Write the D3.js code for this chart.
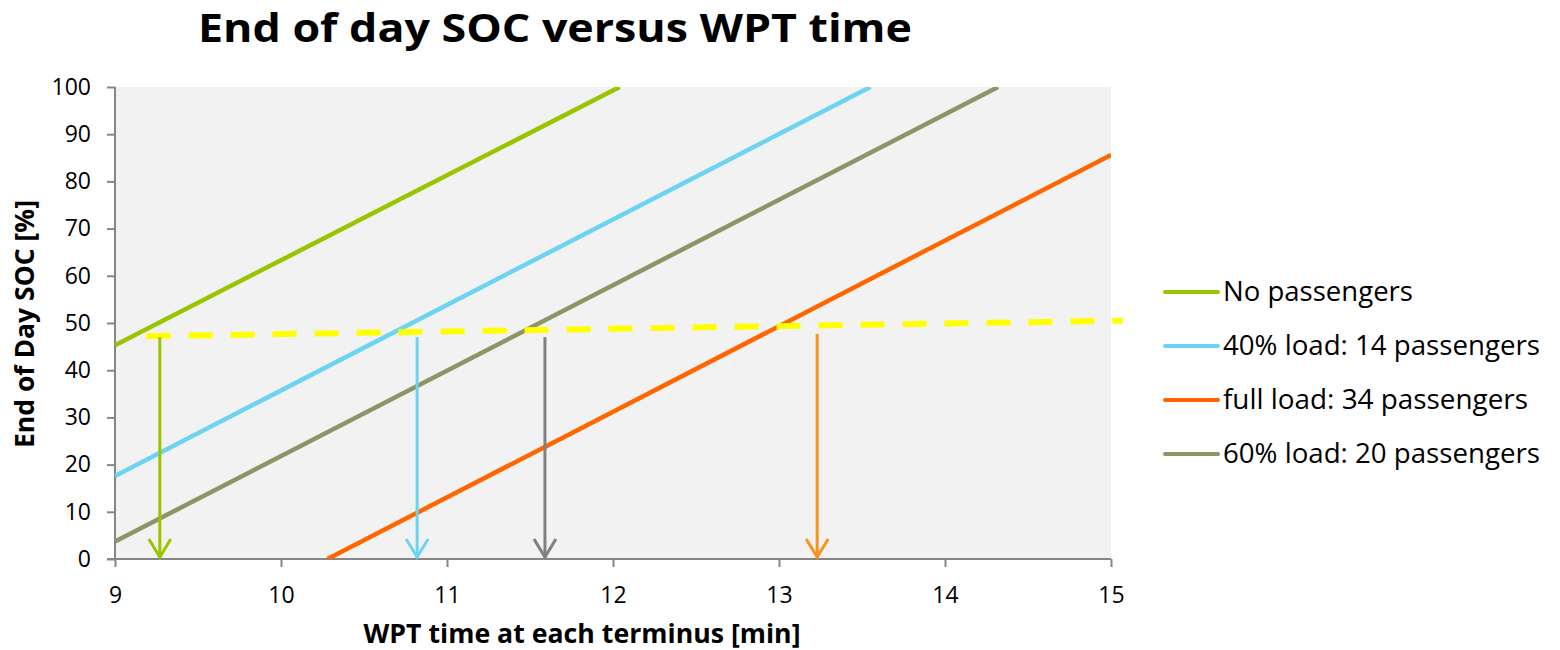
<!DOCTYPE html>
<html><head><meta charset="utf-8">
<script src="https://cdn.jsdelivr.net/npm/d3@7"></script>
<style>body{margin:0;background:#fff;} text{font-family:"Open Sans",sans-serif;fill:#000;}</style>
</head><body>
<svg id="chart" width="1560" height="650"></svg>
<script>
// ---- data ----
const seriesNames = ["No passengers","40% load: 14 passengers","full load: 34 passengers","60% load: 20 passengers"];
const seriesColors = ["#9bc400","#6dd3f3","#ff6600","#8f9466"];
const noPassengers = [[9,45.3],[12.04,100]];
const load40 = [[9,17.6],[13.55,100]];
const fullLoad = [[10.28,0],[15,85.6]];
const load60 = [[9,3.7],[14.32,100]];
const seriesData = [noPassengers, load40, fullLoad, load60];
const thresholdLine = [[9.19,47.2],[15.07,50.5]];
const arrowX = [9.27, 10.82, 11.59, 13.23];
const arrowTop = [47.0, 47.0, 47.0, 47.7];
const arrowColors = ["#9bc400","#6dd3f3","#808080","#f7941d"];
const xTicks = [9,10,11,12,13,14,15];
const yTicks = [0,10,20,30,40,50,60,70,80,90,100];

const svg = d3.select("#chart");
const L=115, R=1111, T=87, B=559;
const x = d3.scaleLinear().domain([9,15]).range([L,R]);
const y = d3.scaleLinear().domain([0,100]).range([B,T]);

svg.append("rect").attr("x",L).attr("y",T).attr("width",R-L).attr("height",B-T).attr("fill","#f2f2f2");
svg.append("defs").append("clipPath").attr("id","clip").append("rect").attr("x",L).attr("y",T).attr("width",R-L).attr("height",B-T);

// axes
const xAxis = svg.append("g").attr("transform",`translate(0,${B})`)
  .call(d3.axisBottom(x).tickValues(xTicks).tickSize(8).tickPadding(20).tickFormat(d3.format("d")));
const yAxis = svg.append("g").attr("transform",`translate(${L},0)`)
  .call(d3.axisLeft(y).tickValues(yTicks).tickSize(8).tickPadding(16));
[xAxis,yAxis].forEach(a=>{
  a.selectAll("path,line").attr("stroke","#868686").attr("stroke-width",2);
  a.selectAll("text").attr("font-size",23).attr("fill","#000").style("font-family","'Open Sans',sans-serif");
});
yAxis.select(".domain").attr("d",`M0,${T}V${B}`);
xAxis.select(".domain").attr("d",`M${L-8},0H${R}`);

const line = d3.line().x(d=>x(d[0])).y(d=>y(d[1]));
const g = svg.append("g").attr("clip-path","url(#clip)");
seriesData.forEach((s,i)=>{
  g.append("path").attr("d",line(s)).attr("fill","none").attr("stroke",seriesColors[i]).attr("stroke-width",4.5);
});

// threshold dashed line
svg.append("path").attr("d",line(thresholdLine)).attr("fill","none").attr("stroke","#ffff00")
  .attr("stroke-width",6).attr("stroke-dasharray","24,18");

// arrows
arrowX.forEach((ax,i)=>{
  const px=x(ax), top=y(arrowTop[i]);
  const ga = svg.append("g").attr("stroke",arrowColors[i]).attr("fill","none").attr("stroke-width",3);
  ga.append("line").attr("x1",px).attr("x2",px).attr("y1",top).attr("y2",B-1);
  ga.append("path").attr("d",`M${px-11},${B-20}L${px},${B-2}L${px+11},${B-20}`).attr("stroke-linejoin","miter");
});

// title & labels
svg.append("text").attr("x",555).attr("y",42).attr("text-anchor","middle").attr("font-size",39).attr("font-weight","bold")
  .attr("textLength",714).attr("lengthAdjust","spacingAndGlyphs").text("End of day SOC versus WPT time");
svg.append("text").attr("x",582).attr("y",643).attr("text-anchor","middle").attr("font-size",27).attr("font-weight","bold")
  .attr("textLength",437).attr("lengthAdjust","spacingAndGlyphs").text("WPT time at each terminus [min]");
svg.append("text").attr("transform","translate(34,324) rotate(-90)").attr("text-anchor","middle").attr("font-size",27).attr("font-weight","bold")
  .attr("textLength",248).attr("lengthAdjust","spacingAndGlyphs").text("End of Day SOC [%]");

// legend
const legY = [292,346,400,454];
const legLen = [190,317,305,317];
seriesNames.forEach((n,i)=>{
  svg.append("line").attr("x1",1165).attr("x2",1218).attr("y1",legY[i]).attr("y2",legY[i])
    .attr("stroke",seriesColors[i]).attr("stroke-width",4).attr("stroke-linecap","round");
  svg.append("text").attr("x",1223).attr("y",legY[i]+9).attr("font-size",27)
    .attr("textLength",legLen[i]).attr("lengthAdjust","spacingAndGlyphs").text(n);
});
</script>
</body></html>
